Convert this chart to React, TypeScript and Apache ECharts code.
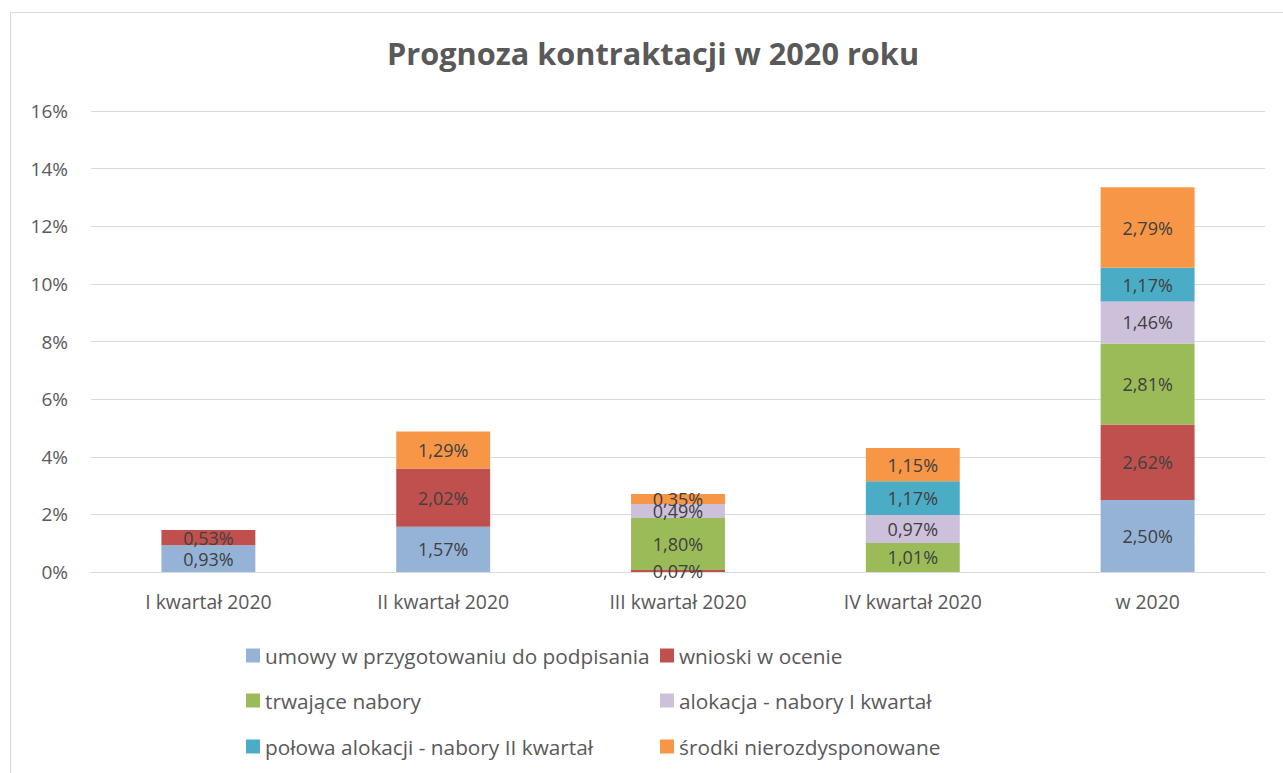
import React, { useEffect, useRef } from "react";
import * as echarts from "echarts";

const categories = ["I kwartał 2020", "II kwartał 2020", "III kwartał 2020", "IV kwartał 2020", "w 2020"];
const seriesNames = [
  "umowy w przygotowaniu do podpisania",
  "wnioski w ocenie",
  "trwające nabory",
  "alokacja - nabory I kwartał",
  "połowa alokacji - nabory II kwartał",
  "środki nierozdysponowane",
];
const umowy = [0.93, 1.57, 0, 0, 2.5];
const wnioski = [0.53, 2.02, 0.07, 0, 2.62];
const trwajace = [0, 0, 1.8, 1.01, 2.81];
const alokacja = [0, 0, 0.49, 0.97, 1.46];
const polowa = [0, 0, 0, 1.17, 1.17];
const srodki = [0, 1.29, 0.35, 1.15, 2.79];
const seriesValues = [umowy, wnioski, trwajace, alokacja, polowa, srodki];
const colors = ["#95B3D7", "#C0504D", "#9BBB59", "#CCC0DA", "#4BACC6", "#F79646"];
const yTicks = { min: 0, max: 16, interval: 2 };

const FONT = "'Open Sans', sans-serif";

export default function App() {
  const ref = useRef<HTMLDivElement>(null);
  useEffect(() => {
    if (!ref.current) return;
    const chart = echarts.init(ref.current, null, { renderer: "svg" });
    const legendPos = [
      { left: 241, top: 640 },
      { left: 655, top: 640 },
      { left: 241, top: 685 },
      { left: 655, top: 685 },
      { left: 241, top: 731 },
      { left: 655, top: 731 },
    ];
    chart.setOption({
      animation: false,
      backgroundColor: "#ffffff",
      title: {
        text: "Prognoza kontraktacji w 2020 roku",
        left: 382,
        top: 32,
        textStyle: { fontFamily: FONT, fontSize: 30.7, fontWeight: "bold", color: "#595959" },
      },
      graphic: [
        {
          type: "rect",
          shape: { x: 10.5, y: 12.5, width: 1300, height: 800 },
          style: { fill: "none", stroke: "#d9d9d9", lineWidth: 1 },
          silent: true,
        },
      ],
      legend: seriesNames.map((n, i) => ({
        data: [n],
        left: legendPos[i].left,
        top: legendPos[i].top,
        itemWidth: 14,
        itemHeight: 14,
        itemGap: 0,
        icon: "rect",
        selectedMode: false,
        textStyle: { fontFamily: FONT, fontSize: 20.8, color: "#595959" },
      })),
      grid: { left: 91, right: 18, top: 111, bottom: 201, containLabel: false },
      xAxis: {
        type: "category",
        data: categories,
        axisLine: { show: true, lineStyle: { color: "#d9d9d9", width: 1 } },
        axisTick: { show: false },
        axisLabel: { fontFamily: FONT, fontSize: 19.4, color: "#595959", margin: 20 },
      },
      yAxis: {
        type: "value",
        min: yTicks.min,
        max: yTicks.max,
        interval: yTicks.interval,
        axisLine: { show: false },
        axisTick: { show: false },
        splitLine: { lineStyle: { color: "#d9d9d9", width: 1 } },
        axisLabel: {
          fontFamily: FONT,
          fontSize: 19,
          color: "#595959",
          margin: 23,
          formatter: (v: number) => `${v}%`,
        },
      },
      series: seriesNames.map((n, i) => ({
        name: n,
        type: "bar",
        stack: "total",
        barWidth: "40%",
        data: seriesValues[i],
        itemStyle: { color: colors[i] },
        label: {
          show: true,
          position: "inside",
          fontFamily: FONT,
          fontSize: 18,
          color: "#404040",
          formatter: (p: any) => (p.value ? `${p.value.toFixed(2).replace(".", ",")}%` : ""),
        },
      })),
    });
    return () => chart.dispose();
  }, []);
  return (
    <div
      ref={ref}
      style={{ position: "fixed", left: 0, top: 0, width: 1283, height: 773 }}
    />
  );
}
